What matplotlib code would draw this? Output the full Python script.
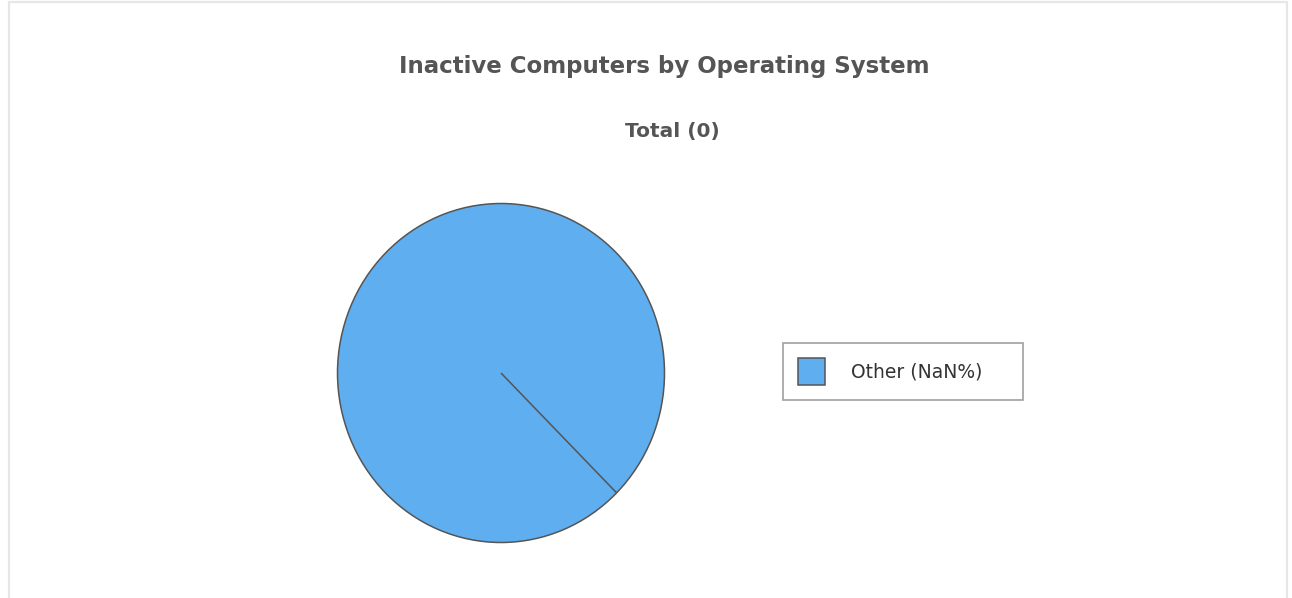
import matplotlib.pyplot as plt
import matplotlib.patches as mpatches

# Chart data
title = 'Inactive Computers by Operating System'
subtitle = 'Total (0)'
labels = ['Other (NaN%)']
values = [1]
colors = ['#5eaef0']

W, H = 1292, 598
fig = plt.figure(figsize=(W / 100, H / 100), dpi=100)
fig.patch.set_facecolor('white')

# Background axes in pixel units for border and titles
bg = fig.add_axes([0, 0, 1, 1])
bg.set_xlim(0, W)
bg.set_ylim(0, H)
bg.axis('off')
bg.add_patch(mpatches.Rectangle((9, -10), 1278, H - 2 + 10, fill=False,
                                edgecolor='#e6e6e6', linewidth=1.6))

bg.text(664, H - 66, title, ha='center', va='center', fontsize=16.5,
        fontweight='bold', color='#555555', family='DejaVu Sans')
bg.text(672, H - 131, subtitle, ha='center', va='center', fontsize=14.5,
        fontweight='bold', color='#555555', family='DejaVu Sans')

# Pie axes (slightly taller than wide)
cx, cy, rx, ry = 501, 373, 163.5, 169.5
ax = fig.add_axes([(cx - rx) / W, (H - cy - ry) / H, 2 * rx / W, 2 * ry / H])
start = -45
wedges, _ = ax.pie(values, colors=colors, startangle=start, counterclock=True,
                   radius=1, frame=True,
                   wedgeprops=dict(edgecolor='#555555', linewidth=1.1))
ax.set_xlim(-1, 1)
ax.set_ylim(-1, 1)
ax.set_aspect('auto')
ax.axis('off')
for w in wedges:
    w.set_clip_on(False)

# Single slice still shows its seam from centre to rim
ax.plot([0, 0.7071], [0, -0.7071], color='#555555', linewidth=1.1,
        solid_capstyle='butt')

fs = 13.5
leg = bg.legend(wedges, labels, loc='upper left', mode='expand',
                bbox_to_anchor=(783 / W, 1 - 402 / H, 240 / W, 59 / H),
                bbox_transform=fig.transFigure,
                borderaxespad=0, fancybox=False, edgecolor='#888888',
                fontsize=fs, handlelength=1.45, handleheight=1.83,
                handletextpad=1.4, borderpad=0.8, labelcolor='#333333')
leg.get_frame().set_linewidth(1.2)

fig.savefig('out.png', dpi=100, facecolor='white')
